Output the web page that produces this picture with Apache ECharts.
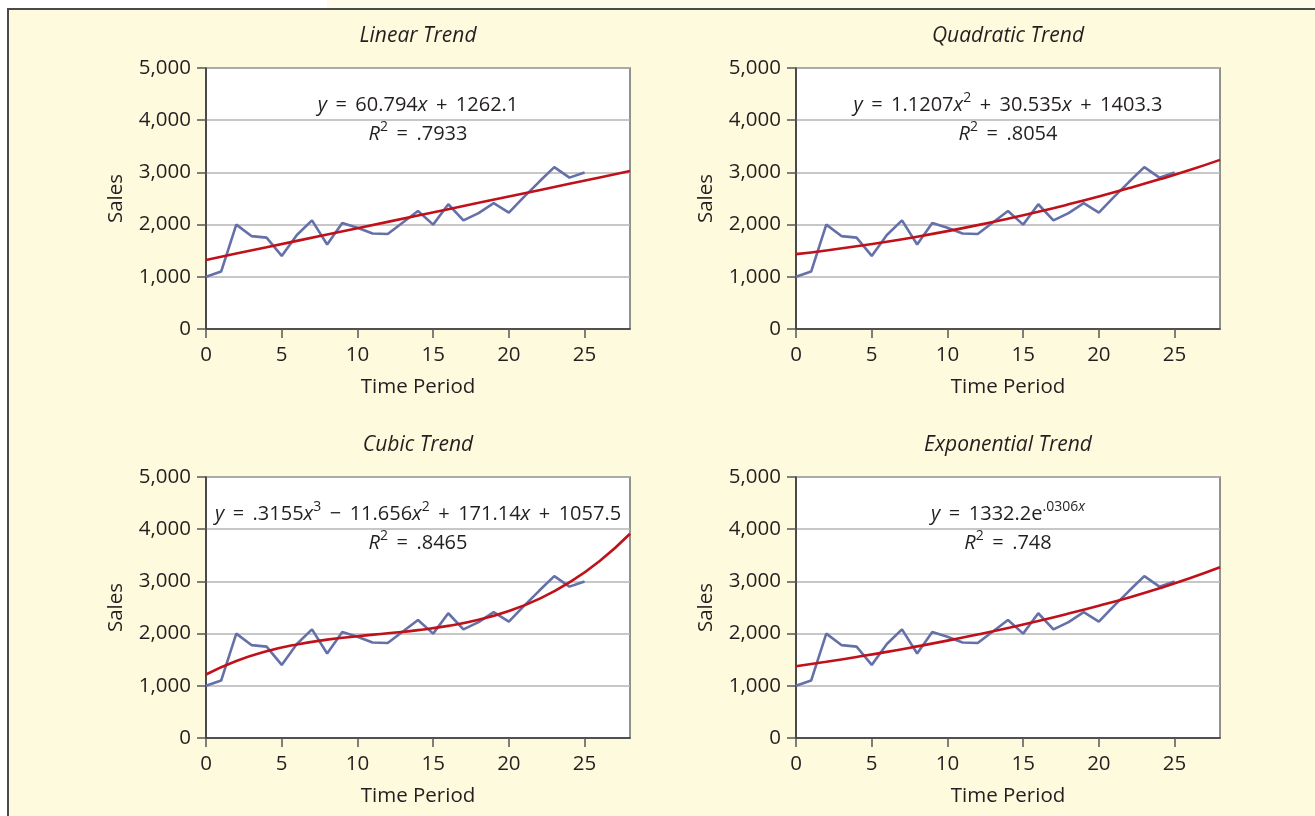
<!DOCTYPE html>
<html>
<head>
<meta charset="utf-8">
<script src="https://cdn.jsdelivr.net/npm/echarts@6/dist/echarts.min.js"></script>
<style>
html,body{margin:0;padding:0;background:#ffffff;}
#c{width:1315px;height:816px;}
</style>
</head>
<body>
<div id="c"></div>
<script>
// ---- data ----
const timePeriods = [0,1,2,3,4,5,6,7,8,9,10,11,12,13,14,15,16,17,18,19,20,21,22,23,24,25];
const sales = [1000,1100,2000,1780,1750,1400,1800,2080,1620,2030,1940,1830,1820,2040,2260,2000,2390,2080,2220,2410,2230,2530,2820,3100,2900,3000];
const trendX = [0,2,4,6,8,10,12,14,16,18,20,22,24,26,28];
const linearTrend = [1323,1445,1566,1688,1809,1931,2052,2174,2296,2417,2539,2660,2782,2904,3025];
const quadraticTrend = [1435,1505,1584,1672,1769,1875,1990,2114,2246,2388,2539,2699,2867,3045,3240];
const cubicTrend = [1217,1475,1661,1793,1884,1950,2006,2067,2148,2265,2433,2666,2981,3391,3913];
const exponentialTrend = [1374,1460,1553,1650,1755,1865,1983,2108,2241,2383,2533,2693,2870,3060,3270];
const xTicks = [0,5,10,15,20,25];
const panelTitles = ['Linear Trend','Quadratic Trend','Cubic Trend','Exponential Trend'];
const xAxisTitle = 'Time Period';
const yAxisTitle = 'Sales';

const FONT = '"Open Sans", "Noto Sans", sans-serif';
const TXT = '#231f20';
const trends = [linearTrend, quadraticTrend, cubicTrend, exponentialTrend];

const grids = [
  {left:206, top:68, width:424, height:261},
  {left:796, top:68, width:424, height:261},
  {left:206, top:477, width:424, height:261},
  {left:796, top:477, width:424, height:261}
];

const pair = (xs, ys) => xs.map((x,i)=>[x, ys[i]]);

const option = {
  animation:false,
  backgroundColor:'transparent',
  grid: grids.map(g=>Object.assign({show:true, backgroundColor:'#ffffff', borderColor:'#6e6e6e', borderWidth:1.5}, g)),
  xAxis: grids.map((g,i)=>({
    type:'value', gridIndex:i, min:0, max:28,
    name:xAxisTitle, nameLocation:'middle', nameGap:48,
    nameTextStyle:{fontFamily:FONT, fontSize:20.5, color:TXT},
    axisLine:{show:true, onZero:false, lineStyle:{color:'#333', width:1.5}},
    axisTick:{show:true, length:9, customValues:xTicks, lineStyle:{color:'#555', width:1.5}},
    axisLabel:{customValues:xTicks, margin:16, fontFamily:FONT, fontSize:20.5, color:TXT},
    splitLine:{show:false}
  })),
  yAxis: grids.map((g,i)=>({
    type:'value', gridIndex:i, min:0, max:5000, interval:1000,
    name:yAxisTitle, nameLocation:'middle', nameGap:79,
    nameTextStyle:{fontFamily:FONT, fontSize:20.5, color:TXT},
    axisLine:{show:true, lineStyle:{color:'#333', width:1.5}},
    axisTick:{show:true, length:9, lineStyle:{color:'#555', width:1.5}},
    axisLabel:{margin:15, fontFamily:FONT, fontSize:20.5, color:TXT,
      formatter:v=>v.toLocaleString('en-US')},
    splitLine:{show:true, lineStyle:{color:'#b4b4b4', width:1.5}}
  })),
  series: [],
  graphic: []
};

grids.forEach((g,i)=>{
  option.series.push({
    type:'line', xAxisIndex:i, yAxisIndex:i, data:pair(timePeriods, sales),
    symbol:'none', lineStyle:{color:'#6570a9', width:2.6}, z:2
  });
  option.series.push({
    type:'line', xAxisIndex:i, yAxisIndex:i, data:pair(trendX, trends[i]),
    symbol:'none', smooth: i>0, lineStyle:{color:'#c0111b', width:2.6}, z:3
  });
});

const base = {fontFamily:FONT, fontSize:20, color:TXT, lineHeight:28};
const rich = {
  n: Object.assign({}, base),
  i: Object.assign({}, base, {fontStyle:'italic'}),
  s: {fontFamily:FONT, fontSize:14, color:TXT, lineHeight:17, verticalAlign:'top'},
  si: {fontFamily:FONT, fontSize:14, color:TXT, lineHeight:17, verticalAlign:'top', fontStyle:'italic'}
};
const S = ' \u2009';
const eqs = [
  ['{i|y}{n|'+S+'='+S+'60.794}{i|x}{n|'+S+'+'+S+'1262.1}', '{i|R}{s|2}{n|'+S+'='+S+'.7933}'],
  ['{i|y}{n|'+S+'='+S+'1.1207}{i|x}{s|2}{n|'+S+'+'+S+'30.535}{i|x}{n|'+S+'+'+S+'1403.3}', '{i|R}{s|2}{n|'+S+'='+S+'.8054}'],
  ['{i|y}{n|'+S+'='+S+'.3155}{i|x}{s|3}{n|'+S+'\u2212'+S+'11.656}{i|x}{s|2}{n|'+S+'+'+S+'171.14}{i|x}{n|'+S+'+'+S+'1057.5}', '{i|R}{s|2}{n|'+S+'='+S+'.8465}'],
  ['{i|y}{n|'+S+'='+S+'1332.2e}{s|.0306}{si|x}', '{i|R}{s|2}{n|'+S+'='+S+'.748}']
];

// frame
option.graphic.push({type:'rect', shape:{x:0,y:0,width:327,height:10}, style:{fill:'#ffffff'}, z:-10, silent:true});
option.graphic.push({type:'rect', shape:{x:327,y:0,width:990,height:10}, style:{fill:'#fffbe9'}, z:-10, silent:true});
option.graphic.push({type:'rect', shape:{x:8,y:9,width:1320,height:820}, style:{fill:'#fefadd', stroke:'#4a4a4a', lineWidth:2}, z:-10, silent:true});

grids.forEach((g,i)=>{
  const cx = g.left + g.width/2;
  option.graphic.push({type:'text', x:cx, y:g.top-32, z:10, silent:true,
    style:{text:panelTitles[i], fontFamily:FONT, fontSize:21, fontStyle:'italic', fill:TXT, align:'center', verticalAlign:'middle'}});
  option.graphic.push({type:'text', x:cx, y:g.top+37, z:10, silent:true,
    style:{text:eqs[i][0], rich:rich, fontFamily:FONT, fontSize:20, fill:TXT, align:'center', verticalAlign:'middle'}});
  option.graphic.push({type:'text', x:cx, y:g.top+66, z:10, silent:true,
    style:{text:eqs[i][1], rich:rich, fontFamily:FONT, fontSize:20, fill:TXT, align:'center', verticalAlign:'middle'}});
});

const chart = echarts.init(document.getElementById('c'), null, {renderer:'canvas'});
chart.setOption(option);
</script>
</body>
</html>
